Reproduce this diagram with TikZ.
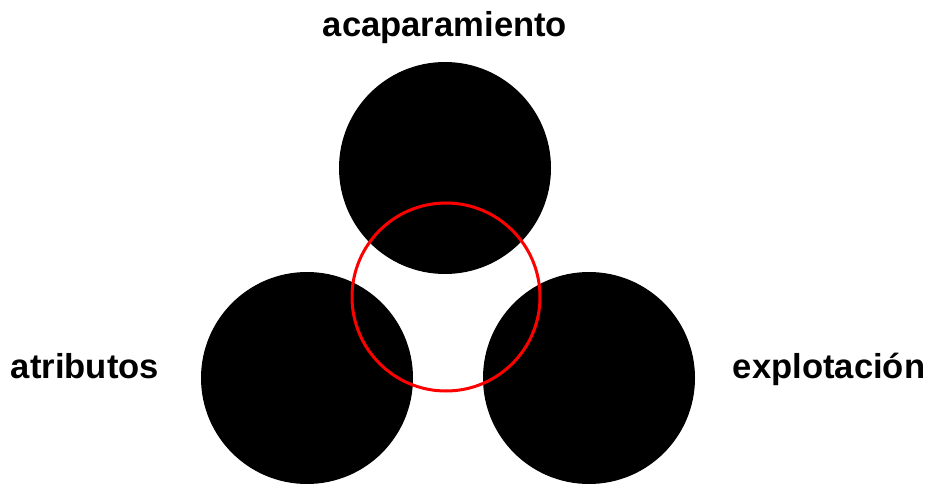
\documentclass[tikz,border=0pt]{standalone}
\usepackage{fontspec}
\setmainfont{Liberation Sans}
\begin{document}
\begin{tikzpicture}[x=1pt,y=-1pt,
  blob/.style={circle,fill=black,minimum size=212pt,inner sep=0pt},
  ring/.style={circle,draw=red,line width=3pt,minimum size=188pt,inner sep=0pt},
  lbl/.style={font=\fontsize{34.6}{40}\selectfont\bfseries,anchor=base,inner sep=0pt}]
\useasboundingbox (0,0) rectangle (932,484);
\node[blob] (top) at (445,168) {};
\node[blob] (left) at (307,378) {};
\node[blob] (right) at (589,378) {};
\node[ring] (mid) at (446,297) {};
\node[lbl] (t1) at (445,37) {acaparamiento};
\node[lbl] (t2) at (85,378) {atributos};
\node[lbl] (t3) at (829,378) {explotación};
\end{tikzpicture}
\end{document}
